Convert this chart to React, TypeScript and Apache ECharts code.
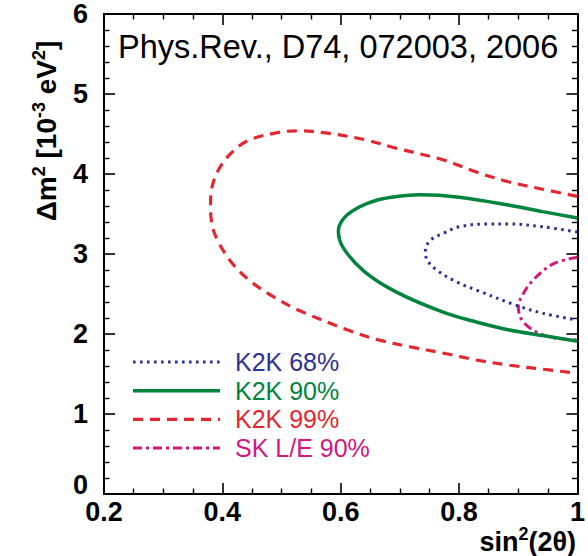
import React, { useEffect, useRef } from "react";
import * as echarts from "echarts";

// ---- data (sin^2(2θ), Δm^2 [1e-3 eV^2]) ----
const seriesNames = ["K2K 68%", "K2K 90%", "K2K 99%", "SK L/E 90%"];
const seriesColors = ["#2e3192", "#00843d", "#e3262f", "#d4177f"];

const k2k68: number[][] = [
  [1.0, 3.275], [0.941, 3.34], [0.885, 3.375], [0.846, 3.375], [0.8, 3.34],
  [0.774, 3.26], [0.752, 3.175], [0.743, 3.05], [0.746, 2.925], [0.762, 2.8],
  [0.796, 2.65], [0.829, 2.55], [0.896, 2.36], [0.941, 2.26], [1.0, 2.175],
];

const k2k90: number[][] = [
  [1.0, 3.45], [0.941, 3.53], [0.885, 3.61], [0.8, 3.71], [0.734, 3.74],
  [0.695, 3.72], [0.662, 3.675], [0.632, 3.59], [0.607, 3.46], [0.596, 3.29],
  [0.604, 3.08], [0.64, 2.78], [0.695, 2.52], [0.774, 2.27], [0.829, 2.15],
  [0.885, 2.05], [0.941, 1.98], [1.0, 1.91],
];

const k2k99: number[][] = [
  [1.0, 3.72], [0.941, 3.81], [0.885, 3.9], [0.829, 4.025], [0.774, 4.175],
  [0.695, 4.32], [0.64, 4.43], [0.578, 4.51], [0.528, 4.54], [0.495, 4.52],
  [0.444, 4.42], [0.416, 4.27], [0.394, 4.06], [0.382, 3.82], [0.38, 3.6],
  [0.383, 3.35], [0.394, 3.14], [0.416, 2.89], [0.444, 2.68], [0.483, 2.48],
  [0.528, 2.3], [0.612, 2.05], [0.662, 1.93], [0.717, 1.84], [0.774, 1.76],
  [0.829, 1.675], [0.885, 1.61], [0.941, 1.56], [1.0, 1.51],
];

const skLE90: number[][] = [
  [1.0, 2.96], [0.96, 2.88], [0.925, 2.675], [0.905, 2.46], [0.9, 2.34],
  [0.906, 2.175], [0.927, 2.04], [0.955, 1.96], [1.0, 1.925],
];

const xTicks = [0.2, 0.4, 0.6, 0.8, 1];
const yTicks = [0, 1, 2, 3, 4, 5, 6];
const citation = "Phys.Rev., D74, 072003, 2006";

const seriesData = [k2k68, k2k90, k2k99, skLE90];
const dashPatterns: (number[] | "solid")[] = [[2.6, 4.4], "solid", [10, 7], [9, 4, 3, 4]];
const widths = [3, 3.5, 3.2, 3];

const FONT = "Liberation Sans, Arial, Helvetica, sans-serif";

export default function App() {
  const ref = useRef<HTMLDivElement>(null);
  useEffect(() => {
    if (!ref.current) return;
    const chart = echarts.init(ref.current, undefined, { renderer: "svg" });

    const axisCommon = {
      type: "value" as const,
      axisLine: { show: true, onZero: false, lineStyle: { color: "#000", width: 2 } },
      axisTick: { show: true, inside: true, length: 11, lineStyle: { color: "#000", width: 1.6 } },
      minorTick: { show: true, length: 5.5, lineStyle: { color: "#000", width: 1.4 } },
      splitLine: { show: false },
    };

    const xAxisBase = { ...axisCommon, min: xTicks[0], max: xTicks[xTicks.length - 1], interval: 0.2 };
    const yAxisBase = { ...axisCommon, min: yTicks[0], max: yTicks[yTicks.length - 1], interval: 1 };

    const legendGraphics: any[] = [];
    seriesNames.forEach((name, i) => {
      const y = 362 + i * 28.7;
      legendGraphics.push({
        type: "line",
        shape: { x1: 133, y1: y, x2: 220, y2: y },
        style: {
          stroke: seriesColors[i],
          lineWidth: widths[i],
          lineDash: dashPatterns[i] === "solid" ? null : (dashPatterns[i] as number[]),
        },
        z: 10,
      });
      legendGraphics.push({
        type: "text",
        x: 235,
        y: y,
        style: {
          text: name,
          fill: seriesColors[i],
          font: `25px ${FONT}`,
          verticalAlign: "middle",
          align: "left",
        },
        z: 10,
      });
    });

    chart.setOption({
      animation: false,
      backgroundColor: "#fff",
      grid: { left: 104, right: 6, top: 14, bottom: 62, containLabel: false },
      xAxis: [
        {
          ...xAxisBase,
          position: "bottom",
          minorTick: { ...axisCommon.minorTick, splitNumber: 4 },
          axisLabel: {
            show: true,
            color: "#000",
            fontSize: 27,
            fontWeight: "bold",
            fontFamily: FONT,
            margin: 4,
            formatter: (v: number) => (v === 1 ? "1" : String(Number(v.toFixed(1)))),
          },
        },
        {
          ...xAxisBase,
          position: "top",
          minorTick: { ...axisCommon.minorTick, splitNumber: 4 },
          axisLabel: { show: false },
        },
      ],
      yAxis: [
        {
          ...yAxisBase,
          position: "left",
          minorTick: { ...axisCommon.minorTick, splitNumber: 5 },
          axisLabel: {
            show: true,
            color: "#000",
            fontSize: 27,
            fontWeight: "bold",
            fontFamily: FONT,
            margin: 16,
            formatter: (v: number) => (v === 0 ? "{z|0}" : String(v)),
            rich: {
              z: {
                fontSize: 27,
                fontWeight: "bold",
                fontFamily: FONT,
                color: "#000",
                padding: [0, 0, 18, 0],
              },
            },
          },
        },
        {
          ...yAxisBase,
          position: "right",
          minorTick: { ...axisCommon.minorTick, splitNumber: 5 },
          axisLabel: { show: false },
        },
      ],
      series: seriesData.map((d, i) => ({
        name: seriesNames[i],
        type: "line",
        xAxisIndex: 0,
        yAxisIndex: 0,
        data: d,
        smooth: 0.35,
        showSymbol: false,
        symbol: "none",
        clip: true,
        z: 3 + (3 - i),
        lineStyle: {
          color: seriesColors[i],
          width: widths[i],
          type: dashPatterns[i],
          cap: "butt",
        },
      })),
      graphic: [
        {
          type: "text",
          x: 118,
          y: 47,
          style: {
            text: citation,
            fill: "#000",
            font: `32.5px ${FONT}`,
            verticalAlign: "middle",
            align: "left",
          },
          z: 10,
        },
        {
          type: "text",
          x: 45,
          y: 131,
          rotation: Math.PI / 2,
          style: {
            text: "{a|Δm}{s|2}{a| [10}{s|-3}{a| eV}{s|2}{a|]}",
            align: "center",
            verticalAlign: "middle",
            rich: {
              a: { font: `bold 28px ${FONT}`, fill: "#000", lineHeight: 30, verticalAlign: "bottom" },
              s: { font: `bold 18px ${FONT}`, fill: "#000", lineHeight: 30, verticalAlign: "top" },
            },
          },
          z: 10,
        },
        {
          type: "text",
          x: 576,
          y: 540,
          style: {
            text: "{a|sin}{s|2}{a|(2θ)}",
            align: "right",
            verticalAlign: "middle",
            rich: {
              a: { font: `bold 27px ${FONT}`, fill: "#000", lineHeight: 30, verticalAlign: "bottom" },
              s: { font: `bold 18px ${FONT}`, fill: "#000", lineHeight: 30, verticalAlign: "top" },
            },
          },
          z: 10,
        },
        ...legendGraphics,
      ],
    });
    return () => chart.dispose();
  }, []);
  return (
    <div
      ref={ref}
      style={{ position: "fixed", left: 0, top: 0, width: 588, height: 556 }}
    />
  );
}
